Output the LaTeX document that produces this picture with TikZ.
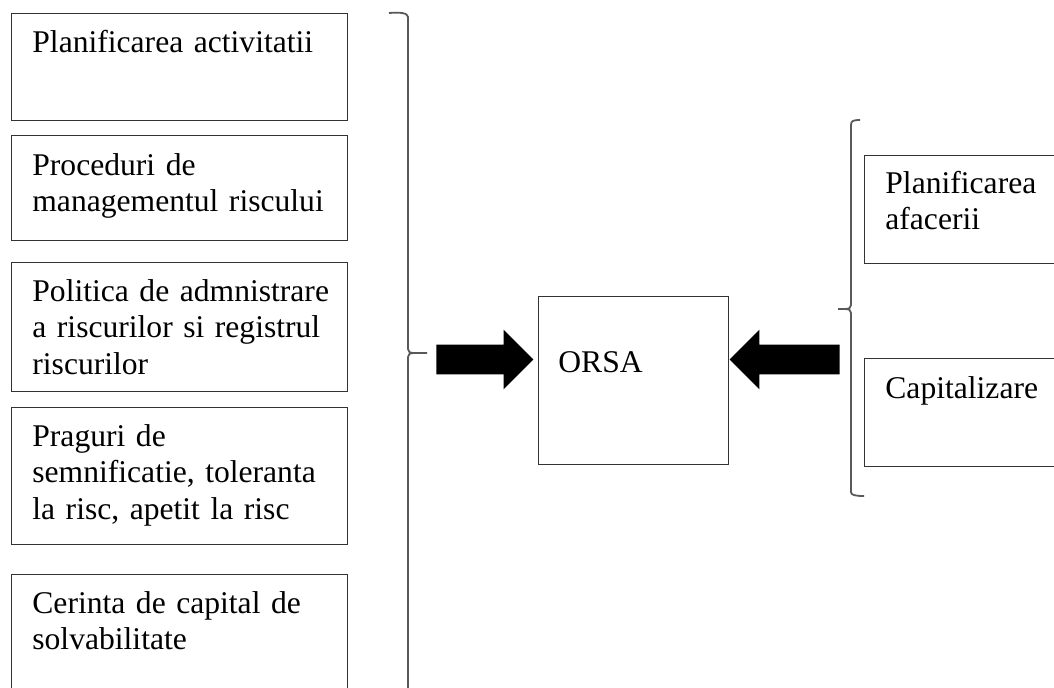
\documentclass[tikz,border=0pt]{standalone}
\usepackage{fontspec}
\setmainfont{Liberation Serif}
\usetikzlibrary{shapes.arrows,calc}

\begin{document}
\begin{tikzpicture}[x=0.5pt, y=-0.5pt, every node/.style={inner sep=0pt},
    box/.style={draw=black!80, line width=0.5pt, anchor=north west},
    txt/.style={anchor=base west, align=left, text width=165pt, font=\fontsize{15.8}{18.25}\selectfont},
    bigarrow/.style={single arrow, fill=black, inner ysep=7.25pt, minimum width=29.5pt, single arrow head extend=7.5pt, single arrow tip angle=90},
    brace/.style={draw=black!65, line width=0.9pt}]
        \path[use as bounding box] (0,0) rectangle (1054,687);
        \clip (0,0) rectangle (1054,687);

        \node[box, minimum width=168pt, minimum height=53.5pt] (activ) at (11,13) {};
        \node[box, minimum width=168pt, minimum height=52.5pt] (proced) at (11,135) {};
        \node[box, minimum width=168pt, minimum height=64.5pt] (politica) at (11,262) {};
        \node[box, minimum width=168pt, minimum height=68.5pt] (praguri) at (11,407) {};
        \node[box, minimum width=168pt, minimum height=63pt] (cerinta) at (11,574) {};
        \node[box, minimum width=95pt, minimum height=84pt] (orsa) at (538,296) {};
        \node[box, minimum width=103pt, minimum height=54pt] (afaceri) at (864,155) {};
        \node[box, minimum width=103pt, minimum height=54pt] (capital) at (864,358) {};

        \node[txt] (t-activ) at ([shift={(21,39)}]activ.north west) {Planificarea activitatii};
        \node[txt] (t-proced) at ([shift={(21,40)}]proced.north west) {Proceduri de\\managementul riscului};
        \node[txt] (t-politica) at ([shift={(21,39)}]politica.north west) {Politica de admnistrare\\a riscurilor si registrul\\riscurilor};
        \node[txt] (t-praguri) at ([shift={(21,39)}]praguri.north west) {Praguri de\\semnificatie, toleranta\\la risc, apetit la risc};
        \node[txt] (t-cerinta) at ([shift={(21,39)}]cerinta.north west) {Cerinta de capital de\\solvabilitate};
        \node[txt] (t-orsa) at ([shift={(20,76)}]orsa.north west) {ORSA};
        \node[txt] (t-afaceri) at ([shift={(21,38)}]afaceri.north west) {Planificarea\\afacerii};
        \node[txt] (t-capital) at ([shift={(21,40)}]capital.north west) {Capitalizare};

        \coordinate (ltip) at (427,353);
        \coordinate (rtip) at (838,309);
        \draw[brace] (389,13) .. controls (400,12) and (408,13) .. (408,17) -- (408,349) .. controls (408,352) and (410,353) .. (414,353) -- (ltip)
            (414,353) .. controls (410,353) and (408,354) .. (408,357) -- (408,700);
        \draw[brace] (860,120) .. controls (853,120) and (851,121) .. (851,125) -- (851,305) .. controls (851,308) and (849,309) .. (845,309) -- (rtip)
            (845,309) .. controls (849,309) and (851,310) .. (851,313) -- (851,492) .. controls (851,495) and (855,496) .. (864,496);

        \node[bigarrow, minimum height=48.5pt, anchor=tip] (arrin) at (534,359.5) {};
        \node[bigarrow, minimum height=55pt, shape border rotate=180, anchor=tip] (arrout) at (orsa.east |- arrin.tip) {};
    \end{tikzpicture}
\end{document}
